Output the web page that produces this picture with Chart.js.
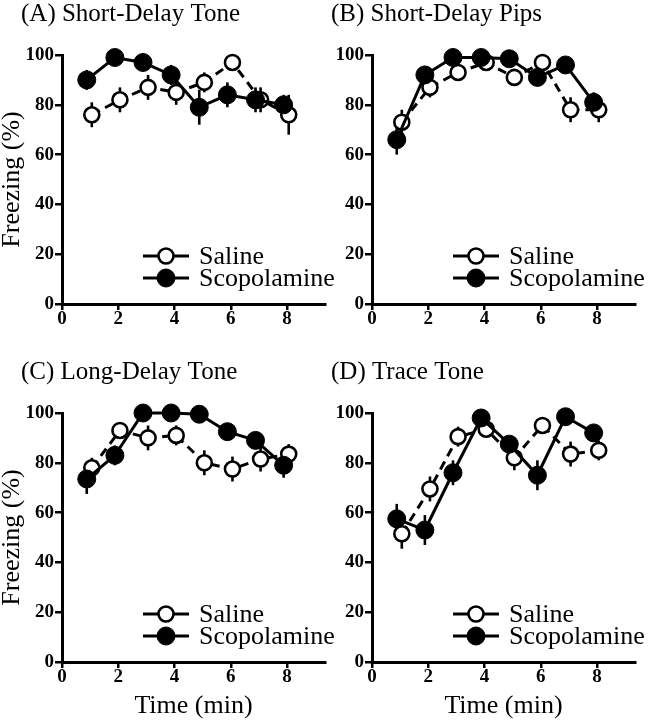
<!DOCTYPE html>
<html>
<head>
<meta charset="utf-8">
<script src="https://cdn.jsdelivr.net/npm/chart.js@4.4.1/dist/chart.umd.min.js"></script>
<style>
  html, body { margin: 0; padding: 0; background: #fff; }
  #wrap { position: relative; width: 650px; height: 720px; overflow: hidden; }
  canvas { position: absolute; }
</style>
</head>
<body>
<div id="wrap">
  <canvas id="chartA" width="340" height="330" style="left:0;top:0"></canvas>
  <canvas id="chartB" width="340" height="330" style="left:310px;top:0"></canvas>
  <canvas id="chartC" width="340" height="362" style="left:0;top:358px"></canvas>
  <canvas id="chartD" width="340" height="362" style="left:310px;top:358px"></canvas>
</div>
<script>
// time bins and axis ticks
const minutes = [1, 2, 3, 4, 5, 6, 7, 8];
const xTicks = [0, 2, 4, 6, 8];
const yTicks = [0, 20, 40, 60, 80, 100];
const seriesNames = ["Saline", "Scopolamine"];

// (A) Short-Delay Tone
const salineA = [76, 82, 87, 85, 89, 97, 82, 76];
const salineErrA = [5, 5, 5, 5, 4, 3, 5, 8];
const scopA = [90, 99, 97, 92, 79, 84, 82, 80];
const scopErrA = [4, 2, 3, 4, 7, 5, 5, 4];

// (B) Short-Delay Pips
const salineB = [73, 87, 93, 97, 91, 97, 78, 78];
const salineErrB = [5, 4, 3, 2, 3, 2, 5, 5];
const scopB = [66, 92, 99, 99, 98.5, 91, 96, 81];
const scopErrB = [6, 3, 2, 2, 2, 3, 2, 4];

// (C) Long-Delay Tone
const salineC = [78, 93, 90, 91, 80, 77.5, 81.5, 83.5];
const salineErrC = [4, 3, 5, 4, 5, 5, 5, 4];
const scopC = [73.5, 83, 100, 100, 99.5, 92.5, 89, 79];
const scopErrC = [6, 4, 2, 2, 2, 3, 3, 5];

// (D) Trace Tone
const salineD = [51.5, 69.5, 90.5, 93.5, 82, 95, 83.5, 85];
const salineErrD = [6, 5, 4, 3, 5, 3, 5, 4];
const scopD = [57.5, 53, 76, 98, 87.5, 75, 98.5, 92];
const scopErrD = [6, 6, 5, 2, 3, 6, 2, 3];

// small horizontal nudge so the two groups don't sit on top of each other
const salineShift = 0.06;
const scopShift = -0.12;

const SERIF = '"Liberation Serif", "Times New Roman", serif';

// error bars, panel title and the in-plot legend
const panelExtras = {
  id: "panelExtras",
  beforeDatasetsDraw(chart) {
    const ctx = chart.ctx, xs = chart.scales.x, ys = chart.scales.y;
    ctx.save();
    ctx.strokeStyle = "#000";
    ctx.lineWidth = 2.6;
    chart.data.datasets.forEach(ds => {
      ds.data.forEach((p, i) => {
        const px = xs.getPixelForValue(p.x);
        ctx.beginPath();
        ctx.moveTo(px, ys.getPixelForValue(p.y - ds.errors[i]));
        ctx.lineTo(px, ys.getPixelForValue(p.y + ds.errors[i]));
        ctx.stroke();
      });
    });
    ctx.restore();
  },
  afterDraw(chart, args, opts) {
    const ctx = chart.ctx, area = chart.chartArea;
    ctx.save();
    ctx.fillStyle = "#000";
    ctx.font = "25px " + SERIF;
    ctx.textBaseline = "alphabetic";
    ctx.fillText(opts.title, 21, area.top - 34);

    ctx.font = "26px " + SERIF;
    chart.data.datasets.forEach((ds, i) => {
      const y = area.bottom - (i === 0 ? 48 : 26);
      ctx.strokeStyle = "#000";
      ctx.lineWidth = 3;
      ctx.setLineDash([]);
      ctx.beginPath();
      ctx.moveTo(area.left + 81, y);
      ctx.lineTo(area.left + 127, y);
      ctx.stroke();
      ctx.beginPath();
      ctx.lineWidth = ds.pointBorderWidth;
      ctx.arc(area.left + 104, y, ds.pointRadius, 0, Math.PI * 2);
      ctx.fillStyle = ds.pointBackgroundColor;
      ctx.fill();
      ctx.stroke();
      ctx.fillStyle = "#000";
      ctx.fillText(ds.label, area.left + 137, y + 8);
    });
    ctx.restore();
  }
};

function makePanel(id, title, saline, salineErr, scop, scopErr, showYTitle, showXTitle, xAxisHeight) {
  const tickFont = { family: SERIF, size: 19, weight: "bold" };
  const titleFont = { family: SERIF, size: 26, lineHeight: 1.2 };
  const axisGrid = {
    display: true, drawOnChartArea: false, drawTicks: true,
    color: "#000", tickColor: "#000", lineWidth: 2.5, tickWidth: 2.5, tickLength: 7
  };
  new Chart(document.getElementById(id), {
    type: "line",
    data: {
      datasets: [
        {
          label: seriesNames[0],
          data: minutes.map((m, i) => ({ x: m + salineShift, y: saline[i] })),
          errors: salineErr,
          borderColor: "#000", borderWidth: 3, borderDash: [9, 6],
          pointRadius: 7.5, pointBorderWidth: 2.6,
          pointBackgroundColor: "#fff", pointBorderColor: "#000",
          clip: false, order: 2
        },
        {
          label: seriesNames[1],
          data: minutes.map((m, i) => ({ x: m + scopShift, y: scop[i] })),
          errors: scopErr,
          borderColor: "#000", borderWidth: 3,
          pointRadius: 9, pointBorderWidth: 1,
          pointBackgroundColor: "#000", pointBorderColor: "#000",
          clip: false, order: 1
        }
      ]
    },
    options: {
      responsive: false,
      animation: false,
      devicePixelRatio: 1,
      layout: { padding: { top: 55, right: 15, left: 0, bottom: 0 } },
      plugins: {
        legend: { display: false },
        tooltip: { enabled: false },
        panelExtras: { title: title }
      },
      scales: {
        x: {
          type: "linear", min: 0, max: 9.35,
          afterBuildTicks: s => { s.ticks = xTicks.map(v => ({ value: v })); },
          afterFit: s => { s.height = xAxisHeight; },
          border: { display: true, color: "#000", width: 3 },
          grid: Object.assign({}, axisGrid, { tickLength: 6 }),
          ticks: { color: "#000", font: tickFont, padding: -2, maxRotation: 0 },
          title: { display: showXTitle, text: "Time (min)", color: "#000", font: titleFont, padding: { top: 0, bottom: -2 } }
        },
        y: {
          type: "linear", min: 0, max: 100,
          afterBuildTicks: s => { s.ticks = yTicks.map(v => ({ value: v })); },
          afterFit: s => { s.width = 62; },
          border: { display: true, color: "#000", width: 3 },
          grid: axisGrid,
          ticks: { color: "#000", font: tickFont, padding: 1 },
          title: { display: showYTitle, text: "Freezing (%)", color: "#000", font: titleFont, padding: { top: -3, bottom: 0 } }
        }
      }
    },
    plugins: [panelExtras]
  });
}

makePanel("chartA", "(A) Short-Delay Tone", salineA, salineErrA, scopA, scopErrA, true, false, 26);
makePanel("chartB", "(B) Short-Delay Pips", salineB, salineErrB, scopB, scopErrB, false, false, 26);
makePanel("chartC", "(C) Long-Delay Tone", salineC, salineErrC, scopC, scopErrC, true, true, 58);
makePanel("chartD", "(D) Trace Tone", salineD, salineErrD, scopD, scopErrD, false, true, 58);
</script>
</body>
</html>
